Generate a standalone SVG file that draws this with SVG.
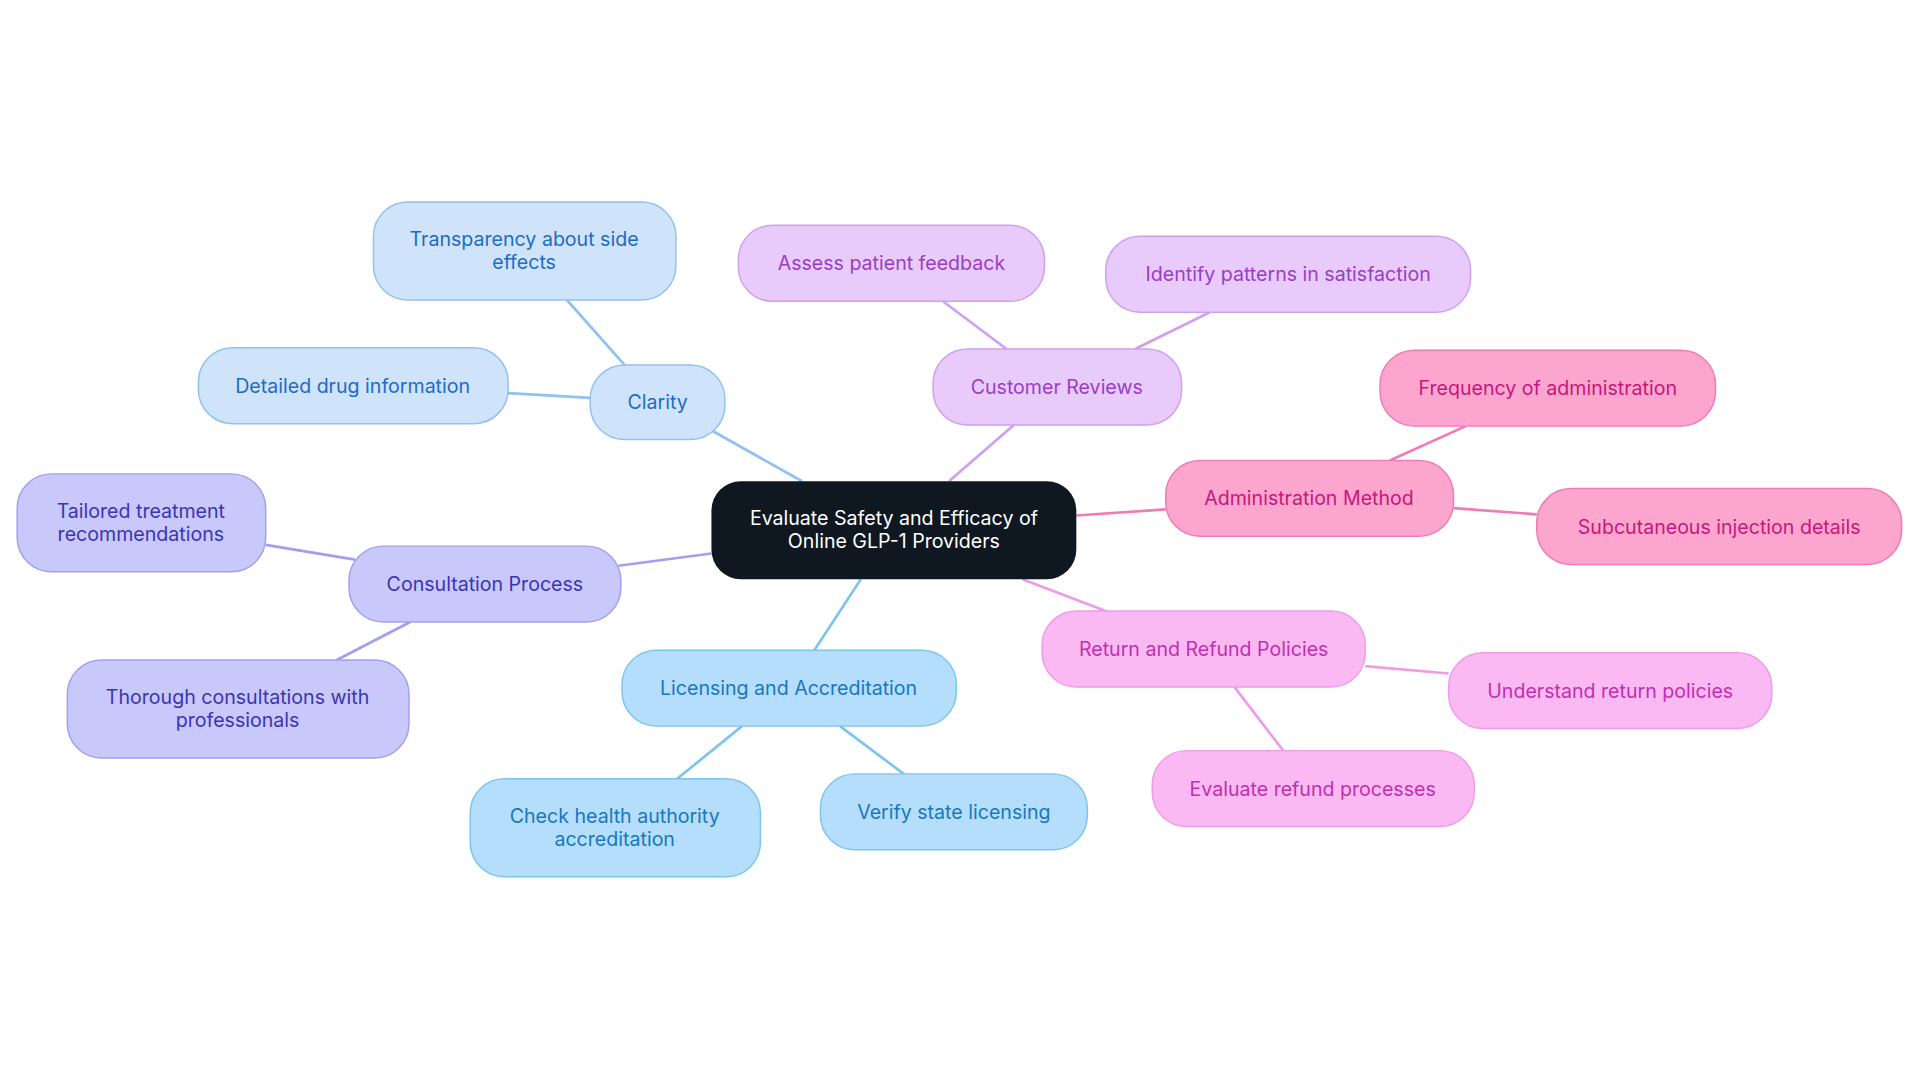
<svg xmlns="http://www.w3.org/2000/svg" width="1920" height="1083" viewBox="0 0 1920 1083">
<style>
text{font-family:Inter,"Noto Sans",sans-serif;font-size:16px;text-anchor:middle;dominant-baseline:central}
rect{stroke-width:1.2}
.c1 rect{fill:#cfe3fb;stroke:#91c1f1}.c1 text{fill:#1e6cc6}
.c2 rect{fill:#c9c8fb;stroke:#a19ff0}.c2 text{fill:#3a35b5}
.c3 rect{fill:#b4defc;stroke:#7dc4f0}.c3 text{fill:#1878be}
.c4 rect{fill:#e8cafb;stroke:#cf9ff0}.c4 text{fill:#983ec6}
.c5 rect{fill:#fca6cf;stroke:#f07bb5}.c5 text{fill:#c6177a}
.c6 rect{fill:#fbb9f3;stroke:#f09be8}.c6 text{fill:#c22fae}
line{stroke-width:2.2}
</style>
<rect width="1920" height="1083" fill="#fff"/>
<g transform="scale(1.2245)">
<g id="connectors">
<g stroke="#91c1f1"><line x1="582" y1="352" x2="655" y2="393"/><line x1="510" y1="298" x2="463" y2="245"/><line x1="482" y1="325" x2="415" y2="321"/></g>
<g stroke="#a19ff0"><line x1="505" y1="462" x2="581" y2="452"/><line x1="290" y1="457" x2="217" y2="445"/><line x1="335" y1="508" x2="275" y2="539"/></g>
<g stroke="#7dc4f0"><line x1="665" y1="531" x2="703" y2="473"/><line x1="606" y1="593" x2="553" y2="636"/><line x1="686" y1="593" x2="738" y2="632"/></g>
<g stroke="#cf9ff0"><line x1="775" y1="393" x2="828" y2="347"/><line x1="822" y1="285" x2="770" y2="246"/><line x1="927" y1="285" x2="988" y2="255"/></g>
<g stroke="#f07bb5"><line x1="879" y1="421" x2="952" y2="416"/><line x1="1135" y1="376" x2="1197" y2="348"/><line x1="1187" y1="415" x2="1255" y2="420"/></g>
<g stroke="#f09be8"><line x1="835" y1="473" x2="903" y2="499"/><line x1="1115" y1="544" x2="1183" y2="550"/><line x1="1008" y1="561" x2="1048" y2="613"/></g>
</g>
<g id="center"><rect x="581" y="393" width="298" height="80" rx="24" fill="#0f1720"/><text x="730" y="423" fill="#fff">Evaluate Safety and Efficacy of</text><text x="730" y="442" fill="#fff">Online GLP-1 Providers</text></g>
<g id="clarity" class="c1"><rect x="482" y="298" width="110" height="61" rx="28"/><text x="537" y="328">Clarity</text></g>
<g id="transparency" class="c1"><rect x="305" y="165" width="247" height="80" rx="28"/><text x="428" y="195">Transparency about side</text><text x="428" y="214">effects</text></g>
<g id="detailed" class="c1"><rect x="162" y="284" width="253" height="62" rx="28"/><text x="288" y="315">Detailed drug information</text></g>
<g id="consultation" class="c2"><rect x="285" y="446" width="222" height="62" rx="28"/><text x="396" y="477">Consultation Process</text></g>
<g id="tailored" class="c2"><rect x="14" y="387" width="203" height="80" rx="28"/><text x="115" y="417">Tailored treatment</text><text x="115" y="436">recommendations</text></g>
<g id="thorough" class="c2"><rect x="55" y="539" width="279" height="80" rx="28"/><text x="194" y="569">Thorough consultations with</text><text x="194" y="588">professionals</text></g>
<g id="licensing" class="c3"><rect x="508" y="531" width="273" height="62" rx="28"/><text x="644" y="562">Licensing and Accreditation</text></g>
<g id="check" class="c3"><rect x="384" y="636" width="237" height="80" rx="28"/><text x="502" y="666">Check health authority</text><text x="502" y="685">accreditation</text></g>
<g id="verify" class="c3"><rect x="670" y="632" width="218" height="62" rx="28"/><text x="779" y="663">Verify state licensing</text></g>
<g id="customer" class="c4"><rect x="762" y="285" width="203" height="62" rx="28"/><text x="863" y="316">Customer Reviews</text></g>
<g id="assess" class="c4"><rect x="603" y="184" width="250" height="62" rx="28"/><text x="728" y="215">Assess patient feedback</text></g>
<g id="identify" class="c4"><rect x="903" y="193" width="298" height="62" rx="28"/><text x="1052" y="224">Identify patterns in satisfaction</text></g>
<g id="admin" class="c5"><rect x="952" y="376" width="235" height="62" rx="28"/><text x="1069" y="407">Administration Method</text></g>
<g id="frequency" class="c5"><rect x="1127" y="286" width="274" height="62" rx="28"/><text x="1264" y="317">Frequency of administration</text></g>
<g id="subcutaneous" class="c5"><rect x="1255" y="399" width="298" height="62" rx="28"/><text x="1404" y="430">Subcutaneous injection details</text></g>
<g id="return" class="c6"><rect x="851" y="499" width="264" height="62" rx="28"/><text x="983" y="530">Return and Refund Policies</text></g>
<g id="understand" class="c6"><rect x="1183" y="533" width="264" height="62" rx="28"/><text x="1315" y="564">Understand return policies</text></g>
<g id="evaluate" class="c6"><rect x="941" y="613" width="263" height="62" rx="28"/><text x="1072" y="644">Evaluate refund processes</text></g>
</g>
</svg>
